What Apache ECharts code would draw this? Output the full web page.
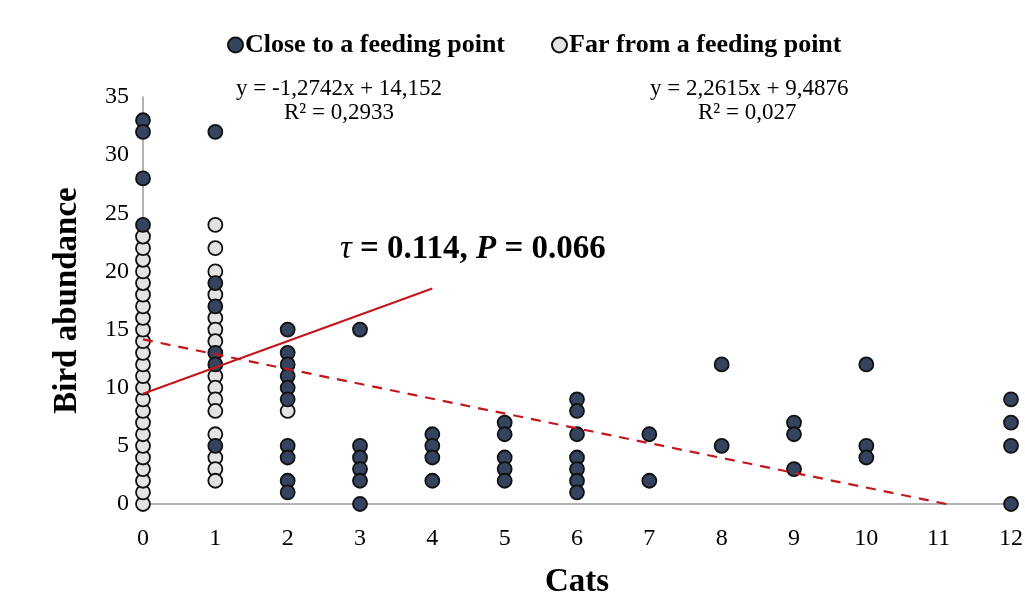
<!DOCTYPE html>
<html>
<head>
<meta charset="utf-8">
<script src="https://cdn.jsdelivr.net/npm/echarts@6/dist/echarts.min.js"></script>
<style>html,body{margin:0;padding:0;background:#fff;}#c{width:1025px;height:599px;}</style>
</head>
<body>
<div id="c"></div>
<script>
// Close to a feeding point: [cats, bird abundance]
const closeX = [0,0,0,0, 1,1,1,1,1,1, 2,2,2,2,2,2,2,2,2,2, 3,3,3,3,3,3, 4,4,4,4, 5,5,5,5,5, 6,6,6,6,6,6,6, 7,7, 8,8, 9,9,9, 10,10,10, 12,12,12,12];
const closeY = [33,32,28,24, 32,19,17,13,12,5, 15,13,12,11,10,9,5,4,2,1, 15,5,4,3,2,0, 6,5,4,2, 7,6,4,3,2, 9,8,6,4,3,2,1, 6,2, 12,5, 7,6,3, 12,5,4, 9,7,5,0];
// Far from a feeding point
const farX = [0,0,0,0,0,0,0,0,0,0,0,0,0,0,0,0,0,0,0,0,0,0,0,0, 1,1,1,1,1,1,1,1,1,1,1,1,1,1,1, 2];
const farY = [0,1,2,3,4,5,6,7,8,9,10,11,12,13,14,15,16,17,18,19,20,21,22,23, 24,22,20,18,16,15,14,11,10,9,8,6,4,3,2, 8];
// Trend lines (endpoints from the fitted equations)
const trendClose = [[0, 14.152], [11.107, 0]];
const trendFar = [[0, 9.4876], [4, 18.534]];
const xTicks = [0,1,2,3,4,5,6,7,8,9,10,11,12];
const yTicks = [0,5,10,15,20,25,30,35];

const serif = '"Liberation Serif","Times New Roman",serif';
const pair = (xs, ys) => xs.map((x, i) => [x, ys[i]]);

const chart = echarts.init(document.getElementById('c'));
chart.setOption({
  animation: false,
  grid: {left: 143, right: 14, top: 97, bottom: 95, outerBoundsMode: 'none', containLabel: false},
  legend: {
    data: ['Close to a feeding point', 'Far from a feeding point'],
    top: 27, left: 222, itemGap: 46, itemWidth: 15, itemHeight: 15,
    icon: 'circle',
    textStyle: {fontFamily: serif, fontWeight: 'bold', fontSize: 26, color: '#000', padding: [0,0,0,-3]}
  },
  xAxis: {
    type: 'value', min: 0, max: 12, interval: 1,
    name: 'Cats', nameLocation: 'middle', nameGap: 62,
    nameTextStyle: {fontFamily: serif, fontWeight: 'bold', fontSize: 33, color: '#000', verticalAlign: 'top'},
    axisLine: {show: true, lineStyle: {color: '#999', width: 1.5}},
    axisTick: {show: false}, splitLine: {show: false},
    axisLabel: {fontFamily: serif, fontSize: 24, color: '#000', margin: 23,
      formatter: v => xTicks.includes(v) ? String(v) : ''}
  },
  yAxis: {
    type: 'value', min: 0, max: 35, interval: 5,
    name: 'Bird abundance', nameLocation: 'middle', nameGap: 59,
    nameTextStyle: {fontFamily: serif, fontWeight: 'bold', fontSize: 33, color: '#000'},
    axisLine: {show: true, lineStyle: {color: '#999', width: 1.5}},
    axisTick: {show: false}, splitLine: {show: false},
    axisLabel: {fontFamily: serif, fontSize: 24, color: '#000', margin: 14,
      formatter: v => yTicks.includes(v) ? String(v) : ''}
  },
  series: [
    {
      name: 'Far from a feeding point', type: 'scatter', symbol: 'circle', symbolSize: 14,
      data: pair(farX, farY), z: 2,
      itemStyle: {color: '#e3e3e3', borderColor: '#111', borderWidth: 1.8, opacity: 1}
    },
    {
      name: 'Close to a feeding point', type: 'scatter', symbol: 'circle', symbolSize: 14,
      data: pair(closeX, closeY), z: 3,
      itemStyle: {color: '#34435e', borderColor: '#111', borderWidth: 1.8, opacity: 1}
    },
    {
      name: 'trendClose', type: 'line', data: trendClose, symbol: 'none', z: 5,
      lineStyle: {color: '#c3171b', width: 2.2, type: [10, 8]}
    },
    {
      name: 'trendFar', type: 'line', data: trendFar, symbol: 'none', z: 5,
      lineStyle: {color: '#c3171b', width: 2.2}
    }
  ],
  graphic: [
    {type: 'text', left: 236, top: 77, style: {text: 'y = -1,2742x + 14,152', font: '23px ' + serif, fill: '#000'}},
    {type: 'text', left: 284, top: 101, style: {text: 'R² = 0,2933', font: '23px ' + serif, fill: '#000'}},
    {type: 'text', left: 650, top: 77, style: {text: 'y = 2,2615x + 9,4876', font: '23px ' + serif, fill: '#000'}},
    {type: 'text', left: 698, top: 101, style: {text: 'R² = 0,027', font: '23px ' + serif, fill: '#000'}},
    {type: 'text', left: 340, top: 233, style: {
      text: '{t|τ}{b| = 0.114, }{p|P}{b| = 0.066}',
      rich: {
        t: {fontFamily: serif, fontStyle: 'italic', fontSize: 33, color: '#000'},
        b: {fontFamily: serif, fontWeight: 'bold', fontSize: 33, color: '#000'},
        p: {fontFamily: serif, fontWeight: 'bold', fontStyle: 'italic', fontSize: 33, color: '#000'}
      }
    }}
  ]
});
</script>
</body>
</html>
